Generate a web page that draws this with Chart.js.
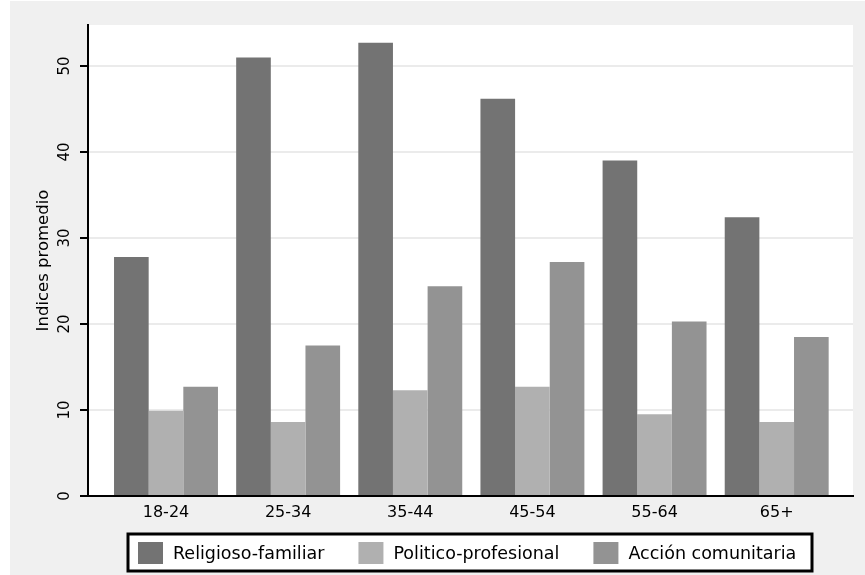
<!DOCTYPE html>
<html>
<head>
<meta charset="utf-8">
<script src="https://cdn.jsdelivr.net/npm/chart.js@4.4.0/dist/chart.umd.min.js"></script>
<style>
  html, body { margin:0; padding:0; background:#fff; }
</style>
</head>
<body>
<canvas id="grafico" width="865" height="575"></canvas>
<script>
// Indices promedio por grupo de edad
const edades = ["18-24", "25-34", "35-44", "45-54", "55-64", "65+"];
const religioso = [27.8, 51.0, 52.7, 46.2, 39.0, 32.4];
const politico = [9.9, 8.6, 12.3, 12.7, 9.5, 8.6];
const comunitaria = [12.7, 17.5, 24.4, 27.2, 20.3, 18.5];
const ticksY = [0, 10, 20, 30, 40, 50];

const fuente = "'DejaVu Sans', sans-serif";
const aPuntos = vals => vals.map((v, i) => ({ x: i, y: v }));

// fondo gris tipo Stata + area del grafico blanca
const fondo = {
  id: 'fondo',
  beforeDraw(chart) {
    const { ctx, chartArea: a } = chart;
    ctx.save();
    ctx.fillStyle = '#f0f0f0';
    ctx.fillRect(10, 1, chart.width - 10, chart.height - 1);
    ctx.fillStyle = '#fff';
    ctx.fillRect(a.left, a.top, a.right - a.left, a.bottom - a.top);
    ctx.restore();
  }
};

// leyenda con recuadro negro abajo
const leyenda = {
  id: 'leyenda',
  afterDraw(chart) {
    const ctx = chart.ctx;
    ctx.save();
    ctx.fillStyle = '#fff';
    ctx.fillRect(128, 534, 684, 37);
    ctx.lineWidth = 3;
    ctx.strokeStyle = '#000';
    ctx.strokeRect(128, 534, 684, 37);
    ctx.font = '17.5px ' + fuente;
    ctx.textBaseline = 'alphabetic';
    let x = 138;
    chart.data.datasets.forEach(ds => {
      ctx.fillStyle = ds.backgroundColor;
      ctx.fillRect(x, 542, 25, 22);
      x += 35;
      ctx.fillStyle = '#000';
      ctx.fillText(ds.label, x, 559);
      x += ctx.measureText(ds.label).width + 34;
    });
    ctx.restore();
  }
};

new Chart(document.getElementById('grafico').getContext('2d'), {
  type: 'bar',
  data: {
    datasets: [
      { label: 'Religioso-familiar', data: aPuntos(religioso), backgroundColor: '#737373' },
      { label: 'Politico-profesional', data: aPuntos(politico), backgroundColor: '#b0b0b0' },
      { label: 'Acción comunitaria', data: aPuntos(comunitaria), backgroundColor: '#939393' }
    ]
  },
  options: {
    responsive: false,
    animation: false,
    categoryPercentage: 0.851,
    barPercentage: 1,
    layout: { padding: { left: 10, right: 12, top: 25, bottom: 0 } },
    plugins: { legend: { display: false }, tooltip: { enabled: false } },
    scales: {
      x: {
        type: 'linear',
        offset: false,
        min: -0.6386, max: 5.6247,
        afterBuildTicks: s => { s.ticks = edades.map((_, i) => ({ value: i })); },
        afterFit: s => { s.height = 79; },
        grid: { display: false, drawTicks: false },
        border: { color: '#000', width: 2 },
        ticks: {
          callback: v => edades[v],
          font: { family: fuente, size: 16 },
          color: '#000', padding: 7, maxRotation: 0, autoSkip: false
        }
      },
      y: {
        min: 0, max: 54.77,
        afterBuildTicks: s => { s.ticks = ticksY.map(v => ({ value: v })); },
        afterFit: s => { s.width = 78; },
        grid: { color: '#ebebeb', lineWidth: 2, tickColor: '#000', tickLength: 8, tickWidth: 2 },
        border: { color: '#000', width: 2 },
        ticks: {
          font: { family: fuente, size: 15 },
          color: '#000', padding: 5,
          minRotation: 90, maxRotation: 90, crossAlign: 'center'
        },
        title: {
          display: true, text: 'Indices promedio', color: '#000',
          font: { family: fuente, size: 16.5 },
          padding: { top: 24, bottom: 0 }
        }
      }
    }
  },
  plugins: [fondo, leyenda]
});
</script>
</body>
</html>
